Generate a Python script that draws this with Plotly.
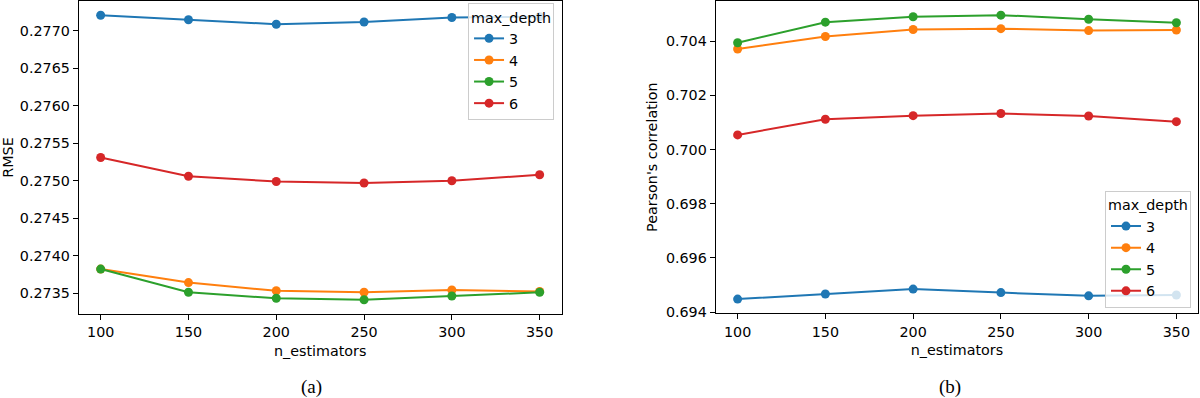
import plotly.graph_objects as go

# n_estimators on the x axis, one series per max_depth
n_estimators = [100, 150, 200, 250, 300, 350]
max_depths = ["3", "4", "5", "6"]
COLORS = ["#1f77b4", "#ff7f0e", "#2ca02c", "#d62728"]

# (a) RMSE
rmse_d3 = [0.27721, 0.27715, 0.27709, 0.27712, 0.27718, 0.27719]
rmse_d4 = [0.27382, 0.27364, 0.27353, 0.27351, 0.27354, 0.27352]
rmse_d5 = [0.27382, 0.27351, 0.27343, 0.27341, 0.27346, 0.27351]
rmse_d6 = [0.27531, 0.27506, 0.27499, 0.27497, 0.27500, 0.27508]

# (b) Pearson's correlation
corr_d3 = [0.69448, 0.69467, 0.69485, 0.69472, 0.69460, 0.69463]
corr_d4 = [0.70371, 0.70417, 0.70443, 0.70446, 0.70439, 0.70441]
corr_d5 = [0.70394, 0.70470, 0.70490, 0.70496, 0.70481, 0.70468]
corr_d6 = [0.70054, 0.70112, 0.70125, 0.70133, 0.70124, 0.70103]

rmse = [rmse_d3, rmse_d4, rmse_d5, rmse_d6]
corr = [corr_d3, corr_d4, corr_d5, corr_d6]

FONT = "DejaVu Sans"
FS = 14.3

fig = go.Figure()

for i, depth in enumerate(max_depths):
    fig.add_trace(go.Scatter(
        x=n_estimators, y=rmse[i], mode="lines+markers", name=depth,
        line=dict(color=COLORS[i], width=2),
        marker=dict(color=COLORS[i], size=9),
        xaxis="x", yaxis="y", legend="legend",
    ))
    fig.add_trace(go.Scatter(
        x=n_estimators, y=corr[i], mode="lines+markers", name=depth,
        line=dict(color=COLORS[i], width=2),
        marker=dict(color=COLORS[i], size=9),
        xaxis="x2", yaxis="y2", legend="legend2",
    ))

axis_style = dict(
    showline=True, mirror=True, linecolor="black", linewidth=1,
    ticks="outside", ticklen=5, tickwidth=1, tickcolor="black",
    showgrid=False, zeroline=False, automargin=False,
    tickfont=dict(family=FONT, size=FS, color="black"),
)

legend_style = dict(
    title=dict(text="max_depth", font=dict(family=FONT, size=FS, color="black")),
    font=dict(family=FONT, size=FS, color="black"),
    bgcolor="rgba(255,255,255,0.8)", bordercolor="#cccccc", borderwidth=1,
    itemwidth=30, tracegroupgap=0,
)

fig.update_layout(
    width=1200, height=398,
    margin=dict(l=0, r=0, t=0, b=0, autoexpand=False),
    paper_bgcolor="white", plot_bgcolor="white",
    showlegend=True,
    xaxis=dict(domain=[0.0656, 0.468], range=[87.5, 362.5], dtick=50, tick0=100,
               anchor="y",
               title=dict(text="n_estimators", standoff=6,
                          font=dict(family=FONT, size=FS, color="black")),
               **axis_style),
    yaxis=dict(domain=[0.211, 0.9975], range=[0.27322, 0.27740], dtick=0.0005,
               tickformat=".4f", anchor="x",
               title=dict(text="RMSE", standoff=4,
                          font=dict(family=FONT, size=FS, color="black")),
               **axis_style),
    xaxis2=dict(domain=[0.5964, 0.9986], range=[87.5, 362.5], dtick=50, tick0=100,
                anchor="y2",
                title=dict(text="n_estimators", standoff=6,
                           font=dict(family=FONT, size=FS, color="black")),
                **axis_style),
    yaxis2=dict(domain=[0.2127, 0.9975], range=[0.693955, 0.705482], dtick=0.002,
                tickformat=".3f", anchor="x2",
                title=dict(text="Pearson's correlation", standoff=4,
                           font=dict(family=FONT, size=FS, color="black")),
                **axis_style),
    legend=dict(x=0.4617, y=0.9925, xanchor="right", yanchor="top", **legend_style),
    legend2=dict(x=0.9925, y=0.2269, xanchor="right", yanchor="bottom", **legend_style),
)

# sub-figure captions
for text, xpos in [("(a)", 311.7 / 1200), ("(b)", 950 / 1200)]:
    fig.add_annotation(
        text=text, x=xpos, y=(398 - 387) / 398, xref="paper", yref="paper",
        showarrow=False, xanchor="center", yanchor="middle",
        font=dict(family="Liberation Serif", size=19, color="black"),
    )

# the page's default body margin would shift the 1200x398 figure out of view
fig.write_html("out.html", config={"displayModeBar": False},
               post_script="document.body.style.margin = '0';")
